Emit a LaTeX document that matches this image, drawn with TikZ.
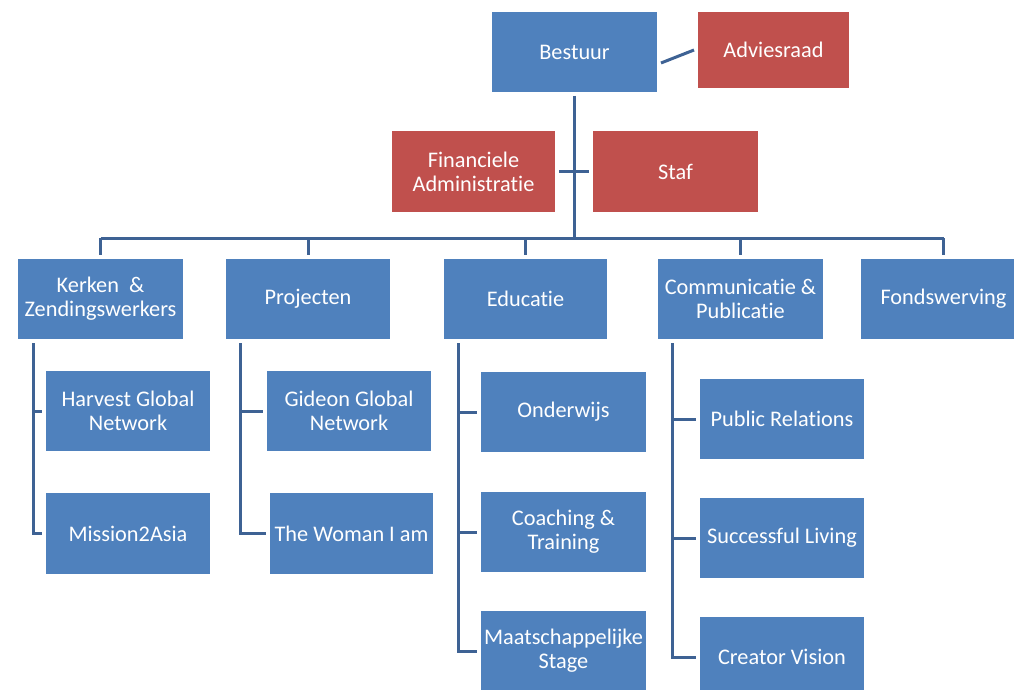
\documentclass[tikz,border=0pt]{standalone}
\usepackage{fontspec}
\setmainfont{Carlito}[Ligatures=NoCommon]
\definecolor{boxblue}{RGB}{79,129,189}
\definecolor{boxred}{RGB}{192,80,77}
\definecolor{linkblue}{RGB}{62,98,148}
\begin{document}
\begin{tikzpicture}[x=1pt,y=-1pt,
  box/.style={rectangle, fill=boxblue, text=white, align=center, minimum width=165pt, minimum height=80pt, inner sep=1pt, outer sep=4pt, font=\fontsize{22.3}{24}\selectfont},
  redbox/.style={box, fill=boxred},
  link/.style={draw=linkblue, line width=3pt}]
\useasboundingbox (0,0) rectangle (1014,690);
\clip (0,0) rectangle (1014,690);
% top
\node[box] (bestuur) at (574.5,52) {Bestuur};
\node[redbox, minimum width=151pt, minimum height=76pt] (advies) at (773.5,50) {Adviesraad};
\node[redbox, minimum width=163pt, minimum height=81pt] (fin) at (473.5,171.5) {Financiele\\Administratie};
\node[redbox, minimum height=81pt] (staf) at (675.5,171.5) {Staf};
% level 2
\node[box] (kerken) at (100.5,299) {Kerken\ \ \&\\Zendingswerkers};
\node[box, minimum width=164pt] (proj) at (308,299) {Projecten};
\node[box, minimum width=163pt] (edu) at (525.5,299) {Educatie};
\node[box] (comm) at (740.5,299) {Communicatie \&\\Publicatie};
\node[box] (fonds) at (943.5,299) {Fondswerving};
% level 3
\node[box, minimum width=164pt] (harvest) at (128,411) {Harvest Global\\Network};
\node[box, minimum width=164pt, minimum height=81pt] (mission) at (128,533.5) {Mission2Asia};
\node[box, minimum width=164pt] (gideon) at (349,411) {Gideon Global\\Network};
\node[box, minimum width=163pt, minimum height=81pt] (woman) at (351.5,533.5) {The Woman I am};
\node[box] (onder) at (563.5,412) {Onderwijs};
\node[box] (coach) at (563.5,532) {Coaching \&\\Training};
\node[box] (maats) at (563.5,651) {Maatschappelijke\\Stage};
\node[box, minimum width=164pt] (pr) at (782,419) {Public Relations};
\node[box, minimum width=164pt] (succ) at (782,538) {Successful Living};
\node[box, minimum width=164pt] (creator) at (782,657) {Creator Vision};
% coordinates
\coordinate (busy) at (0,238);
\coordinate (kx) at (33,0);
\coordinate (px) at (240,0);
\coordinate (ex) at (458,0);
\coordinate (cx) at (672,0);
% connectors
\draw[link] ([yshift=-11pt]bestuur.east) -- (advies.west);
\draw[link] (bestuur.south) -- (bestuur.south |- busy);
\draw[link] (fin.east) -- (staf.west);
\draw[link] (kerken.north |- busy) -- (fonds.north |- busy);
\foreach \n in {kerken,proj,edu,comm,fonds}
  \draw[link] (\n.north |- busy) -- (\n.north);
\draw[link] (kx |- kerken.south) |- (mission.west);
\draw[link] (kx |- harvest.west) -- (harvest.west);
\draw[link] (px |- proj.south) |- (woman.west);
\draw[link] (px |- gideon.west) -- (gideon.west);
\draw[link] (ex |- edu.south) |- (maats.west);
\draw[link] (ex |- onder.west) -- (onder.west);
\draw[link] (ex |- coach.west) -- (coach.west);
\draw[link] (cx |- comm.south) |- (creator.west);
\draw[link] (cx |- pr.west) -- (pr.west);
\draw[link] (cx |- succ.west) -- (succ.west);
\end{tikzpicture}
\end{document}
